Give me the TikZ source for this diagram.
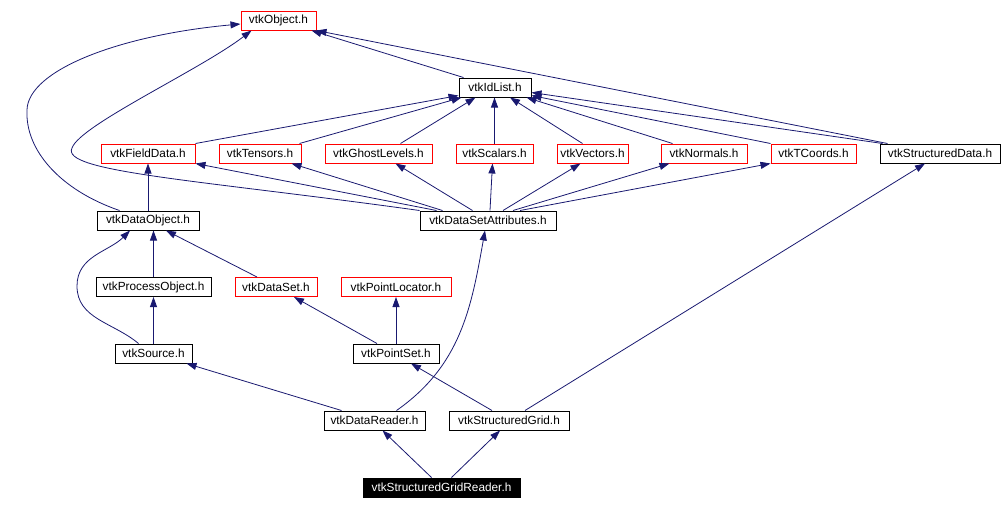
\documentclass[tikz,border=0pt]{standalone}
\usepackage{fontspec}
\setmainfont{Liberation Sans}
\usetikzlibrary{arrows.meta}
\definecolor{edgeblue}{HTML}{191970}
\begin{document}
\begin{tikzpicture}[x=1pt,y=-1pt,
    hdr/.style={draw=black, line width=1pt, inner sep=0pt, minimum height=19pt,
      font=\fontsize{11.8}{14}\selectfont},
    redhdr/.style={hdr, draw=red},
    cur/.style={hdr, fill=black, text=white},
    dep/.style={draw=edgeblue, line width=0.8pt, -{Triangle[length=10pt,width=7pt]}}]

  \useasboundingbox (0,0) rectangle (1002,509);

  % top
  \node[redhdr, minimum width=75] (obj) at (278.5,20.5) {vtkObject.h};
  \node[hdr, minimum width=72] (idl) at (495,87.5) {vtkIdList.h};

  % attribute row
  \node[redhdr, minimum width=94]  (fd)    at (148,153.5)   {vtkFieldData.h};
  \node[redhdr, minimum width=82]  (tens)  at (260,153.5)   {vtkTensors.h};
  \node[redhdr, minimum width=107] (ghost) at (378.5,153.5) {vtkGhostLevels.h};
  \node[redhdr, minimum width=77]  (scal)  at (494.5,153.5) {vtkScalars.h};
  \node[redhdr, minimum width=71]  (vec)   at (592.5,153.5) {vtkVectors.h};
  \node[redhdr, minimum width=86]  (nor)   at (704,153.5)   {vtkNormals.h};
  \node[redhdr, minimum width=85]  (tco)   at (813.5,153.5) {vtkTCoords.h};
  \node[hdr, minimum width=120]    (sdata) at (940,153.5)   {vtkStructuredData.h};

  \node[hdr, minimum width=102] (dobj) at (148,220.5) {vtkDataObject.h};
  \node[hdr, minimum width=136] (dsa)  at (488,220.5) {vtkDataSetAttributes.h};

  \node[hdr, minimum width=115]   (proc) at (153.5,287) {vtkProcessObject.h};
  \node[redhdr, minimum width=82] (dset) at (276,287)   {vtkDataSet.h};
  \node[redhdr, minimum width=110] (ploc) at (396,287)  {vtkPointLocator.h};

  \node[hdr, minimum width=77] (src)  at (153.5,353.5) {vtkSource.h};
  \node[hdr, minimum width=86] (pset) at (396,353.5)   {vtkPointSet.h};

  \node[hdr, minimum width=101] (drd)   at (374.5,420.5) {vtkDataReader.h};
  \node[hdr, minimum width=120] (sgrid) at (509,420.5)   {vtkStructuredGrid.h};

  % file being documented
  \node[cur, minimum width=157] (cur) at (441.5,487.5) {vtkStructuredGridReader.h};

  % to vtkObject.h
  \draw[dep] ([xshift=5]idl.north west) -- ([xshift=-5]obj.south east);
  \draw[dep] ([xshift=8]sdata.north west) -- (obj.south east);
  \draw[dep] ([xshift=23]dobj.north west) .. controls (60,190) and (25,150) .. (27,110)
    .. controls (28,70) and (120,35) .. ([yshift=-3.5]obj.west);
  \draw[dep] (dsa.north west) .. controls (200,180) and (60,172) .. (72,148)
    .. controls (80,125) and (200,70) .. ([xshift=11]obj.south west);

  % to vtkIdList.h
  \draw[dep] (fd.north east) -- ([yshift=2]idl.south west);
  \draw[dep] ([xshift=-2]tens.north east) -- ([xshift=3]idl.south west);
  \draw[dep] ([xshift=22]ghost.north) -- ([xshift=17]idl.south west);
  \draw[dep] (scal.north) -- (scal.north |- idl.south);
  \draw[dep] ([xshift=-10]vec.north) -- ([xshift=15]idl.south);
  \draw[dep] ([xshift=12]nor.north west) -- ([xshift=-5]idl.south east);
  \draw[dep] (tco.north west) -- ([yshift=2]idl.south east);
  \draw[dep] ([xshift=3]sdata.north west) -- ([yshift=5]idl.south east);

  % from vtkDataSetAttributes.h
  \draw[dep] ([xshift=17]dsa.north west) -- (fd.south east);
  \draw[dep] ([xshift=23]dsa.north west) -- ([xshift=-10]tens.south east);
  \draw[dep] ([xshift=53]dsa.north west) -- ([xshift=17]ghost.south);
  \draw[dep] ([xshift=2]dsa.north) -- ([xshift=-2]scal.south);
  \draw[dep] ([xshift=15]dsa.north) -- ([xshift=-12]vec.south);
  \draw[dep] ([xshift=25]dsa.north) -- ([xshift=9]nor.south west);
  \draw[dep] ([xshift=32]dsa.north) -- (tco.south west);

  % to vtkDataObject.h
  \draw[dep] (dobj.north) -- (fd.south);
  \draw[dep] (proc.north) -- (proc.north |- dobj.south);
  \draw[dep] ([xshift=-19]dset.north) -- ([xshift=18]dobj.south);
  \draw[dep] ([xshift=-15]src.north) to[out=140,in=-90] (77,286)
    to[out=90,in=-135] ([xshift=-18]dobj.south);

  \draw[dep] (src.north) -- (proc.south);
  \draw[dep] ([xshift=-19]pset.north) -- ([xshift=18]dset.south);
  \draw[dep] (pset.north) -- (pset.north |- ploc.south);

  % readers and grid
  \draw[dep] ([xshift=-33]drd.north) -- ([xshift=33]src.south);
  \draw[dep] ([xshift=22]drd.north) to[out=35,in=-100] ([xshift=-3]dsa.south);
  \draw[dep] ([xshift=-17]sgrid.north) -- ([xshift=15]pset.south);
  \draw[dep] ([xshift=16]sgrid.north) -- ([xshift=-15]sdata.south);
  \draw[dep] ([xshift=-10]cur.north) -- ([xshift=8]drd.south);
  \draw[dep] ([xshift=10]cur.north) -- ([xshift=-9]sgrid.south);

\end{tikzpicture}
\end{document}
